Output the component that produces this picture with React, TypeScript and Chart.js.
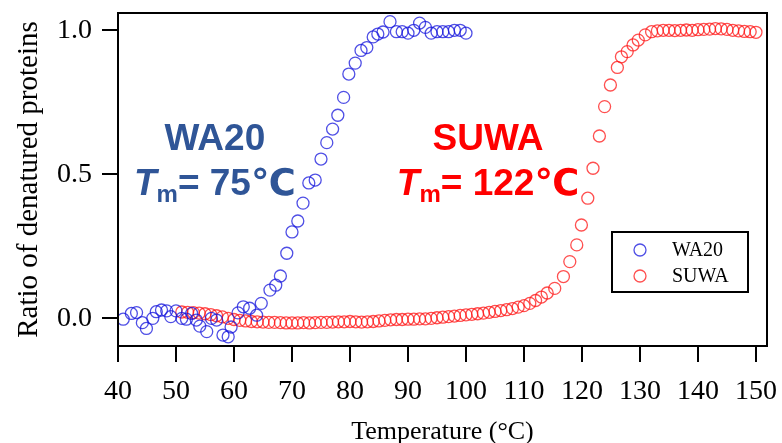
import React, { useEffect, useRef } from 'react';
import { Chart, registerables } from 'chart.js';
Chart.register(...registerables);

// ---------- data ----------
const wa20Temp = [40.9, 42.3, 43.2, 44.2, 44.9, 46.0, 46.6, 47.5, 48.4, 49.1, 50.0, 51.0, 51.8, 52.7, 53.5, 54.1, 55.3, 56.1, 57.0, 58.1, 59.0, 59.5, 60.7, 61.6, 62.7, 63.9, 64.7, 66.2, 67.2, 68.0, 69.1, 70.0, 71.0, 71.9, 72.9, 74.0, 75.0, 76.0, 77.0, 77.9, 78.9, 79.8, 80.9, 81.9, 82.9, 84.0, 84.8, 85.7, 86.9, 88.0, 89.0, 90.0, 91.0, 92.0, 93.0, 94.0, 95.0, 96.0, 97.0, 98.0, 99.0, 100.0];
const wa20Ratio = [-0.003, 0.017, 0.02, -0.015, -0.035, 0.0, 0.023, 0.029, 0.026, 0.006, 0.026, 0.0, -0.003, 0.017, -0.006, -0.027, -0.046, 0.0, -0.006, -0.058, -0.064, -0.03, 0.019, 0.04, 0.035, 0.011, 0.052, 0.098, 0.115, 0.147, 0.226, 0.30, 0.338, 0.40, 0.47, 0.48, 0.553, 0.61, 0.657, 0.705, 0.767, 0.848, 0.886, 0.93, 0.94, 0.977, 0.987, 0.994, 1.03, 0.995, 0.995, 0.99, 1.0, 1.025, 1.01, 0.99, 0.995, 0.995, 0.995, 1.0, 1.0, 0.99];

const suwaTemp = [51, 52, 53, 54, 55, 56, 57, 58, 59, 60, 61, 62, 63, 64, 65, 66, 67, 68, 69, 70, 71, 72, 73, 74, 75, 76, 77, 78, 79, 80, 81, 82, 83, 84, 85, 86, 87, 88, 89, 90, 91, 92, 93, 94, 95, 96, 97, 98, 99, 100, 101, 102, 103, 104, 105, 106, 107, 108, 109, 110, 111, 112, 113, 114, 115.3, 116.8, 117.9, 119.1, 119.9, 121.0, 121.9, 123.0, 123.9, 124.9, 126.1, 126.8, 127.8, 128.8, 129.7, 130.9, 132, 133, 134, 135, 136, 137, 138, 139, 140, 141, 142, 143, 144, 145, 146, 147, 148, 149, 150];
const suwaRatio = [0.022, 0.021, 0.02, 0.018, 0.016, 0.013, 0.009, 0.005, 0.0, -0.004, -0.007, -0.009, -0.011, -0.012, -0.013, -0.014, -0.014, -0.015, -0.016, -0.016, -0.016, -0.015, -0.016, -0.015, -0.014, -0.014, -0.013, -0.012, -0.012, -0.011, -0.012, -0.013, -0.012, -0.011, -0.009, -0.007, -0.005, -0.004, -0.004, -0.003, -0.003, -0.002, -0.002, 0.0, 0.002, 0.004, 0.006, 0.008, 0.01, 0.012, 0.014, 0.016, 0.018, 0.021, 0.024, 0.027, 0.03, 0.034, 0.039, 0.044, 0.052, 0.062, 0.074, 0.088, 0.104, 0.145, 0.197, 0.255, 0.324, 0.417, 0.521, 0.633, 0.735, 0.81, 0.871, 0.908, 0.926, 0.949, 0.966, 0.984, 0.995, 0.998, 1.0, 1.0, 0.999, 1.0, 1.001, 1.0, 1.002, 1.003, 1.004, 1.006, 1.005, 1.003, 1.0, 0.998, 0.996, 0.995, 0.993];

const seriesNames = ['WA20', 'SUWA'];
const xTickValues = [40, 50, 60, 70, 80, 90, 100, 110, 120, 130, 140, 150];
const yTickValues = [0.0, 0.5, 1.0];
const xTitle = 'Temperature (°C)';
const yTitle = 'Ratio of denatured proteins';
const annotNames = ['WA20', 'SUWA'];
const annotTm = ['75℃', '122℃'];
const annotCenterX = [56.7, 103.8];

const BLUE = 'rgba(20,20,220,0.75)';
const RED = 'rgba(255,20,20,0.75)';
const ANNOT_COLORS = ['#2F5597', '#FF0000'];

const SANS = "'Liberation Sans', Arial, 'DejaVu Sans', sans-serif";
const SERIF = "'Liberation Serif', 'Times New Roman', serif";

const decorPlugin = {
  id: 'decor',
  afterDraw(chart: any) {
    const { ctx, chartArea, scales } = chart;
    const xs = scales.x;
    const ys = scales.y;
    ctx.save();
    // frame
    ctx.strokeStyle = '#000';
    ctx.lineWidth = 2;
    ctx.strokeRect(chartArea.left, chartArea.top, chartArea.right - chartArea.left, chartArea.bottom - chartArea.top);

    // annotations
    for (let i = 0; i < annotNames.length; i++) {
      const cx = xs.getPixelForValue(annotCenterX[i]);
      const y1 = ys.getPixelForValue(0.584);
      const y2 = ys.getPixelForValue(0.428);
      ctx.fillStyle = ANNOT_COLORS[i];
      ctx.textBaseline = 'alphabetic';
      ctx.textAlign = 'left';
      ctx.font = `bold 37px ${SANS}`;
      const w0 = ctx.measureText(annotNames[i]).width;
      ctx.fillText(annotNames[i], cx - w0 / 2, y1);

      ctx.font = `italic bold 37px ${SANS}`;
      const wT = ctx.measureText('T').width;
      ctx.font = `bold 24px ${SANS}`;
      const wm = ctx.measureText('m').width;
      ctx.font = `bold 37px ${SANS}`;
      const rest = '= ' + annotTm[i];
      const wr = ctx.measureText(rest).width;
      const total = wT + wm + wr;
      let x = cx - total / 2;
      ctx.font = `italic bold 37px ${SANS}`;
      ctx.fillText('T', x, y2);
      x += wT;
      ctx.font = `bold 24px ${SANS}`;
      ctx.fillText('m', x, y2 + 7);
      x += wm;
      ctx.font = `bold 37px ${SANS}`;
      ctx.fillText(rest, x, y2);
    }

    // legend
    const bx = chartArea.right - 155;
    const by = chartArea.bottom - 114;
    const bw = 136;
    const bh = 60;
    ctx.fillStyle = '#fff';
    ctx.fillRect(bx, by, bw, bh);
    ctx.strokeStyle = '#000';
    ctx.lineWidth = 2;
    ctx.strokeRect(bx, by, bw, bh);
    chart.data.datasets.forEach((ds: any, i: number) => {
      const cy = by + 18 + i * 26;
      ctx.beginPath();
      ctx.arc(bx + 28, cy, 6, 0, Math.PI * 2);
      ctx.strokeStyle = ds.borderColor;
      ctx.lineWidth = 1.3;
      ctx.stroke();
      ctx.fillStyle = '#000';
      ctx.font = `20px ${SERIF}`;
      ctx.textBaseline = 'middle';
      ctx.textAlign = 'left';
      ctx.fillText(ds.label, bx + 60, cy + 1);
    });
    ctx.restore();
  },
};

export default function App() {
  const ref = useRef<HTMLCanvasElement>(null);
  useEffect(() => {
    if (!ref.current) return;
    const chart = new Chart(ref.current, {
      type: 'scatter',
      data: {
        datasets: [
          {
            label: seriesNames[0],
            data: wa20Temp.map((t, i) => ({ x: t, y: wa20Ratio[i] })),
            borderColor: BLUE,
            backgroundColor: 'rgba(0,0,0,0)',
            pointRadius: 6,
            pointBorderWidth: 1.3,
          },
          {
            label: seriesNames[1],
            data: suwaTemp.map((t, i) => ({ x: t, y: suwaRatio[i] })),
            borderColor: RED,
            backgroundColor: 'rgba(0,0,0,0)',
            pointRadius: 6,
            pointBorderWidth: 1.3,
          },
        ],
      },
      options: {
        responsive: false,
        animation: false,
        layout: { padding: { left: 0, right: 15, top: 13, bottom: 0 } },
        plugins: { legend: { display: false }, tooltip: { enabled: false } },
        scales: {
          x: {
            type: 'linear',
            min: 40,
            max: 151.9,
            afterBuildTicks: (s: any) => { s.ticks = xTickValues.map((v) => ({ value: v })); },
            afterFit: (s: any) => { s.height = 97; s.paddingLeft = 0; s.paddingRight = 0; },
            ticks: {
              color: '#000',
              font: { family: SERIF, size: 28 },
              padding: 13,
              maxRotation: 0,
              callback: (v: any) => String(v),
            },
            grid: { drawOnChartArea: false, drawTicks: true, tickLength: 16, color: '#000', lineWidth: 2 },
            border: { display: true, color: '#000', width: 2 },
            title: {
              display: true,
              text: xTitle,
              color: '#000',
              font: { family: SERIF, size: 26, lineHeight: 0.85 },
              padding: { top: 0, bottom: 0 },
            },
          },
          y: {
            type: 'linear',
            min: -0.096,
            max: 1.06,
            afterBuildTicks: (s: any) => { s.ticks = yTickValues.map((v) => ({ value: v })); },
            afterFit: (s: any) => { s.width = 118; s.paddingTop = 0; s.paddingBottom = 0; },
            ticks: {
              color: '#000',
              font: { family: SERIF, size: 28 },
              padding: 10,
              callback: (v: any) => Number(v).toFixed(1),
            },
            grid: { drawOnChartArea: false, drawTicks: true, tickLength: 16, color: '#000', lineWidth: 2 },
            border: { display: true, color: '#000', width: 2 },
            title: {
              display: true,
              text: yTitle,
              color: '#000',
              font: { family: SERIF, size: 29, lineHeight: 0.85 },
              padding: { top: 17, bottom: 0 },
            },
          },
        },
      },
      plugins: [decorPlugin],
    });
    return () => chart.destroy();
  }, []);
  return (
    <div style={{ position: 'fixed', left: 0, top: 0, width: 782, height: 443, background: '#fff' }}>
      <canvas ref={ref} width={782} height={443} style={{ display: 'block' }} />
    </div>
  );
}
